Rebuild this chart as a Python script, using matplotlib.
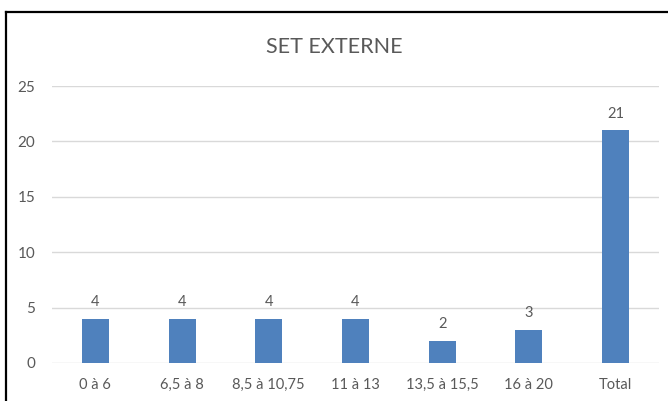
import matplotlib
matplotlib.use("Agg")
import matplotlib.pyplot as plt
from matplotlib.lines import Line2D

categories = ["0 à 6", "6,5 à 8", "8,5 à 10,75", "11 à 13", "13,5 à 15,5", "16 à 20", "Total"]
values = [4, 4, 4, 4, 2, 3, 21]
yticks = [0, 5, 10, 15, 20, 25]

W, H = 668, 401
fig = plt.figure(figsize=(W / 100, H / 100), dpi=100)
plt.rcParams["font.family"] = ["Lato", "DejaVu Sans"]

text_col = "#595959"
bar_col = "#4F81BD"
grid_col = "#D9D9D9"

ax = fig.add_axes([52 / W, 1 - 363 / H, (659 - 52) / W, (363 - 86) / H])
x = list(range(len(categories)))
bars = ax.bar(x, values, width=0.31, color=bar_col, zorder=3)
ax.set_xlim(-0.5, len(categories) - 0.5)
ax.set_ylim(0, 25)
ax.set_yticks(yticks)
ax.set_xticks(x)
ax.set_xticklabels(categories)
ax.grid(axis="y", color=grid_col, linewidth=1, zorder=0)
for s in ax.spines.values():
    s.set_visible(False)
ax.tick_params(axis="both", length=0, colors=text_col, labelsize=10.5)
ax.tick_params(axis="y", labelsize=11)
ax.tick_params(axis="x", pad=11)
ax.tick_params(axis="y", pad=12)

for xi, v in zip(x, values):
    ax.annotate(str(v), (xi, v), xytext=(0, 7), textcoords="offset points",
                ha="center", va="bottom", color=text_col, fontsize=10.5)

fig.text(0.5, 1 - 47 / H, "SET EXTERNE", ha="center", va="center",
         fontsize=15.5, color=text_col)

# chart frame: top and left edges
fig.add_artist(Line2D([6 / W, 1], [1 - 12 / H, 1 - 12 / H], color="black", linewidth=1.6,
                      transform=fig.transFigure))
fig.add_artist(Line2D([6 / W, 6 / W], [0, 1 - 12 / H], color="black", linewidth=1.6,
                      transform=fig.transFigure))

fig.savefig("out.png", dpi=100)
